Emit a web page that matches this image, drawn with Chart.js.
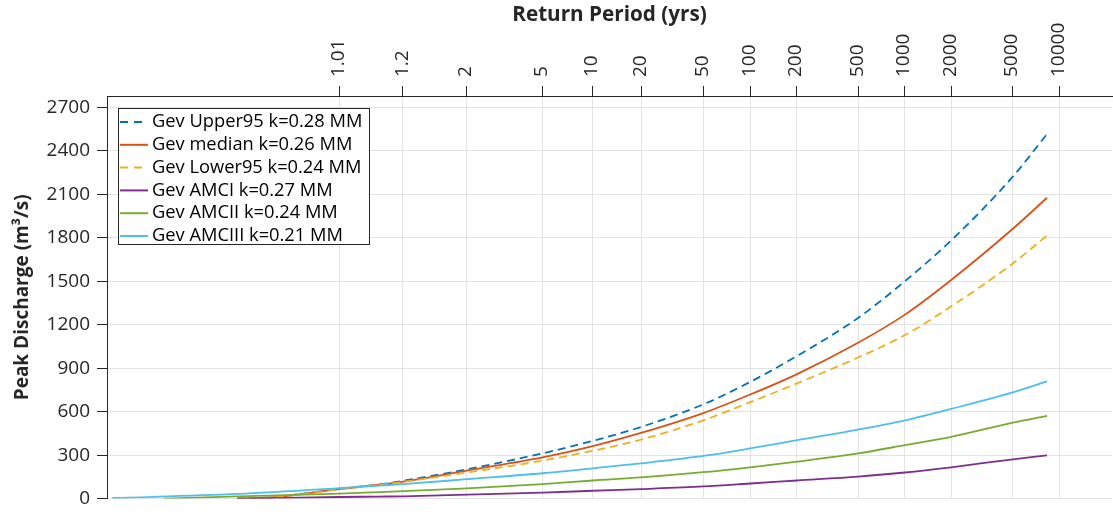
<!DOCTYPE html>
<html>
<head>
<meta charset="utf-8">
<script src="https://cdn.jsdelivr.net/npm/chart.js@4"></script>
<style>
  html, body { margin: 0; padding: 0; background: #fff; }
  #wrap { width: 1113px; height: 517px; }
</style>
</head>
<body>
<div id="wrap"><canvas id="myChart" width="1113" height="517"></canvas></div>
<script>
// return periods on the top axis (Gumbel probability scale)
const returnPeriods = [1.01, 1.2, 2, 5, 10, 20, 50, 100, 200, 500, 1000, 2000, 5000, 10000];
const periodLabels = ["1.01", "1.2", "2", "5", "10", "20", "50", "100", "200", "500", "1000", "2000", "5000", "10000"];
const dischargeTicks = [0, 300, 600, 900, 1200, 1500, 1800, 2100, 2400, 2700];

// curve positions, in Gumbel reduced variate
const xGev = [-3.06, -2.53, -1.53, -0.93, -0.58, 0.37, 1.50, 2.25, 2.97, 3.90, 4.60, 5.30, 6.21, 6.91, 7.60, 8.52, 9.03];
const upper95 = [0, 10, 68, 98, 123, 202, 312, 398, 494, 650, 805, 984, 1246, 1500, 1781, 2221, 2515];
const median = [0, 9, 66, 96, 117, 193, 284, 362, 453, 590, 718, 859, 1075, 1269, 1508, 1861, 2075];
const lower95 = [0, 8, 65, 95, 115, 180, 262, 330, 407, 540, 665, 795, 973, 1128, 1326, 1622, 1815];

const xAmc1 = [-3.06, -1.53, -0.93, -0.58, 0.37, 1.50, 2.25, 2.97, 3.90, 4.60, 5.30, 6.21, 6.91, 7.60, 8.52, 9.03];
const amc1 = [0, 11, 14, 16, 27, 41, 54, 66, 84, 104, 125, 152, 180, 216, 271, 298];

const xAmc2 = [-4.15, -3.06, -1.53, -0.93, -0.58, 0.37, 1.50, 2.25, 2.97, 3.90, 4.60, 5.30, 6.21, 6.91, 7.60, 8.52, 9.03];
const amc2 = [0, 15, 34, 45, 52, 70, 100, 125, 146, 182, 216, 255, 312, 369, 426, 524, 571];

const xAmc3 = [-4.92, -3.06, -1.53, -0.93, -0.58, 0.37, 1.50, 2.25, 2.97, 3.90, 4.60, 5.30, 6.21, 6.91, 7.60, 8.52, 9.03];
const amc3 = [4, 32, 72, 90, 100, 134, 175, 209, 243, 294, 346, 403, 476, 540, 619, 733, 809];

// return period -> Gumbel reduced variate
const gumbel = (T) => -Math.log(-Math.log(1 - 1 / T));

const pts = (xs, ys) => xs.map((x, i) => ({ x: x, y: ys[i] }));

const FONT = "'Open Sans', sans-serif";
const INK = "#262626";

const mkSet = (label, xs, ys, color, dash) => ({
  label: label,
  data: pts(xs, ys),
  borderColor: color,
  backgroundColor: color,
  borderWidth: 1.8,
  borderDash: dash || [],
  pointRadius: 0,
  fill: false,
  cubicInterpolationMode: "monotone",
});

const datasets = [
  mkSet("Gev Upper95 k=0.28 MM", xGev, upper95, "#0072BD", [8, 5]),
  mkSet("Gev median k=0.26 MM", xGev, median, "#D95319"),
  mkSet("Gev Lower95 k=0.24 MM", xGev, lower95, "#EDB120", [8, 5]),
  mkSet("Gev AMCI k=0.27 MM", xAmc1, amc1, "#7E2F8E"),
  mkSet("Gev AMCII k=0.24 MM", xAmc2, amc2, "#77AC30"),
  mkSet("Gev AMCIII k=0.21 MM", xAmc3, amc3, "#4DBEEE"),
];
// later series on top, like the original
datasets.forEach((d, i) => (d.order = datasets.length - i));

// boxed legend in the upper-left corner of the plot
const boxLegend = {
  id: "boxLegend",
  afterDraw(chart) {
    const { ctx, chartArea } = chart;
    const x0 = chartArea.left + 11;
    const y0 = chartArea.top + 12;
    const w = 251, h = 136, step = 22.8;
    ctx.save();
    ctx.fillStyle = "#fff";
    ctx.fillRect(x0, y0, w, h);
    ctx.strokeStyle = INK;
    ctx.lineWidth = 1;
    ctx.strokeRect(x0 + 0.5, y0 + 0.5, w, h);
    ctx.font = "18.3px " + FONT;
    ctx.textBaseline = "middle";
    chart.data.datasets.forEach((d, i) => {
      const y = y0 + 14 + i * step;
      ctx.strokeStyle = d.borderColor;
      ctx.lineWidth = 2;
      ctx.setLineDash(d.borderDash.length ? [8, 6] : []);
      ctx.beginPath();
      ctx.moveTo(x0 + 2, y);
      ctx.lineTo(x0 + 30, y);
      ctx.stroke();
      ctx.setLineDash([]);
      ctx.fillStyle = "#000";
      ctx.fillText(d.label, x0 + 34, y);
    });
    ctx.restore();
  },
};

const config = {
  type: "line",
  data: { datasets: datasets },
  plugins: [boxLegend],
  options: {
    responsive: false,
    animation: false,
    devicePixelRatio: 1,
    layout: { padding: { top: 0, right: 1, bottom: 15, left: 0 } },
    plugins: { legend: { display: false }, tooltip: { enabled: false } },
    scales: {
      x: {
        type: "linear",
        position: "top",
        min: -5,
        max: 10,
        afterBuildTicks: (scale) => {
          scale.ticks = returnPeriods.map((T) => ({ value: gumbel(T) }));
        },
        afterFit: (scale) => {
          scale.height = 96;
        },
        ticks: {
          autoSkip: false,
          minRotation: 90,
          maxRotation: 90,
          padding: 9,
          labelOffset: 22,
          color: INK,
          font: { family: FONT, size: 19 },
          callback: (value, index) => periodLabels[index],
        },
        grid: {
          color: "#e3e3e3",
          lineWidth: 1,
          drawTicks: true,
          tickLength: 10,
          tickColor: INK,
        },
        border: { display: true, color: INK, width: 1 },
        title: {
          display: true,
          text: "Return Period (yrs)",
          color: INK,
          font: { family: FONT, size: 20.7, weight: "bold" },
          padding: { top: 3, bottom: 0 },
        },
      },
      y: {
        type: "linear",
        min: 0,
        max: 2777,
        afterBuildTicks: (scale) => {
          scale.ticks = dischargeTicks.map((v) => ({ value: v }));
        },
        afterFit: (scale) => {
          scale.width = 107;
        },
        ticks: {
          padding: 7,
          color: INK,
          font: { family: FONT, size: 19 },
          callback: (value) => String(value),
        },
        grid: {
          color: "#e3e3e3",
          lineWidth: 1,
          drawTicks: true,
          tickLength: 10,
          tickColor: INK,
        },
        border: { display: true, color: INK, width: 1 },
        title: {
          display: true,
          text: "Peak Discharge (m³/s)",
          color: INK,
          font: { family: FONT, size: 19, weight: "bold" },
          padding: { top: 11, bottom: 2 },
        },
      },
    },
  },
};

const ctx = document.getElementById("myChart");
const myChart = new Chart(ctx, config);
</script>
</body>
</html>
